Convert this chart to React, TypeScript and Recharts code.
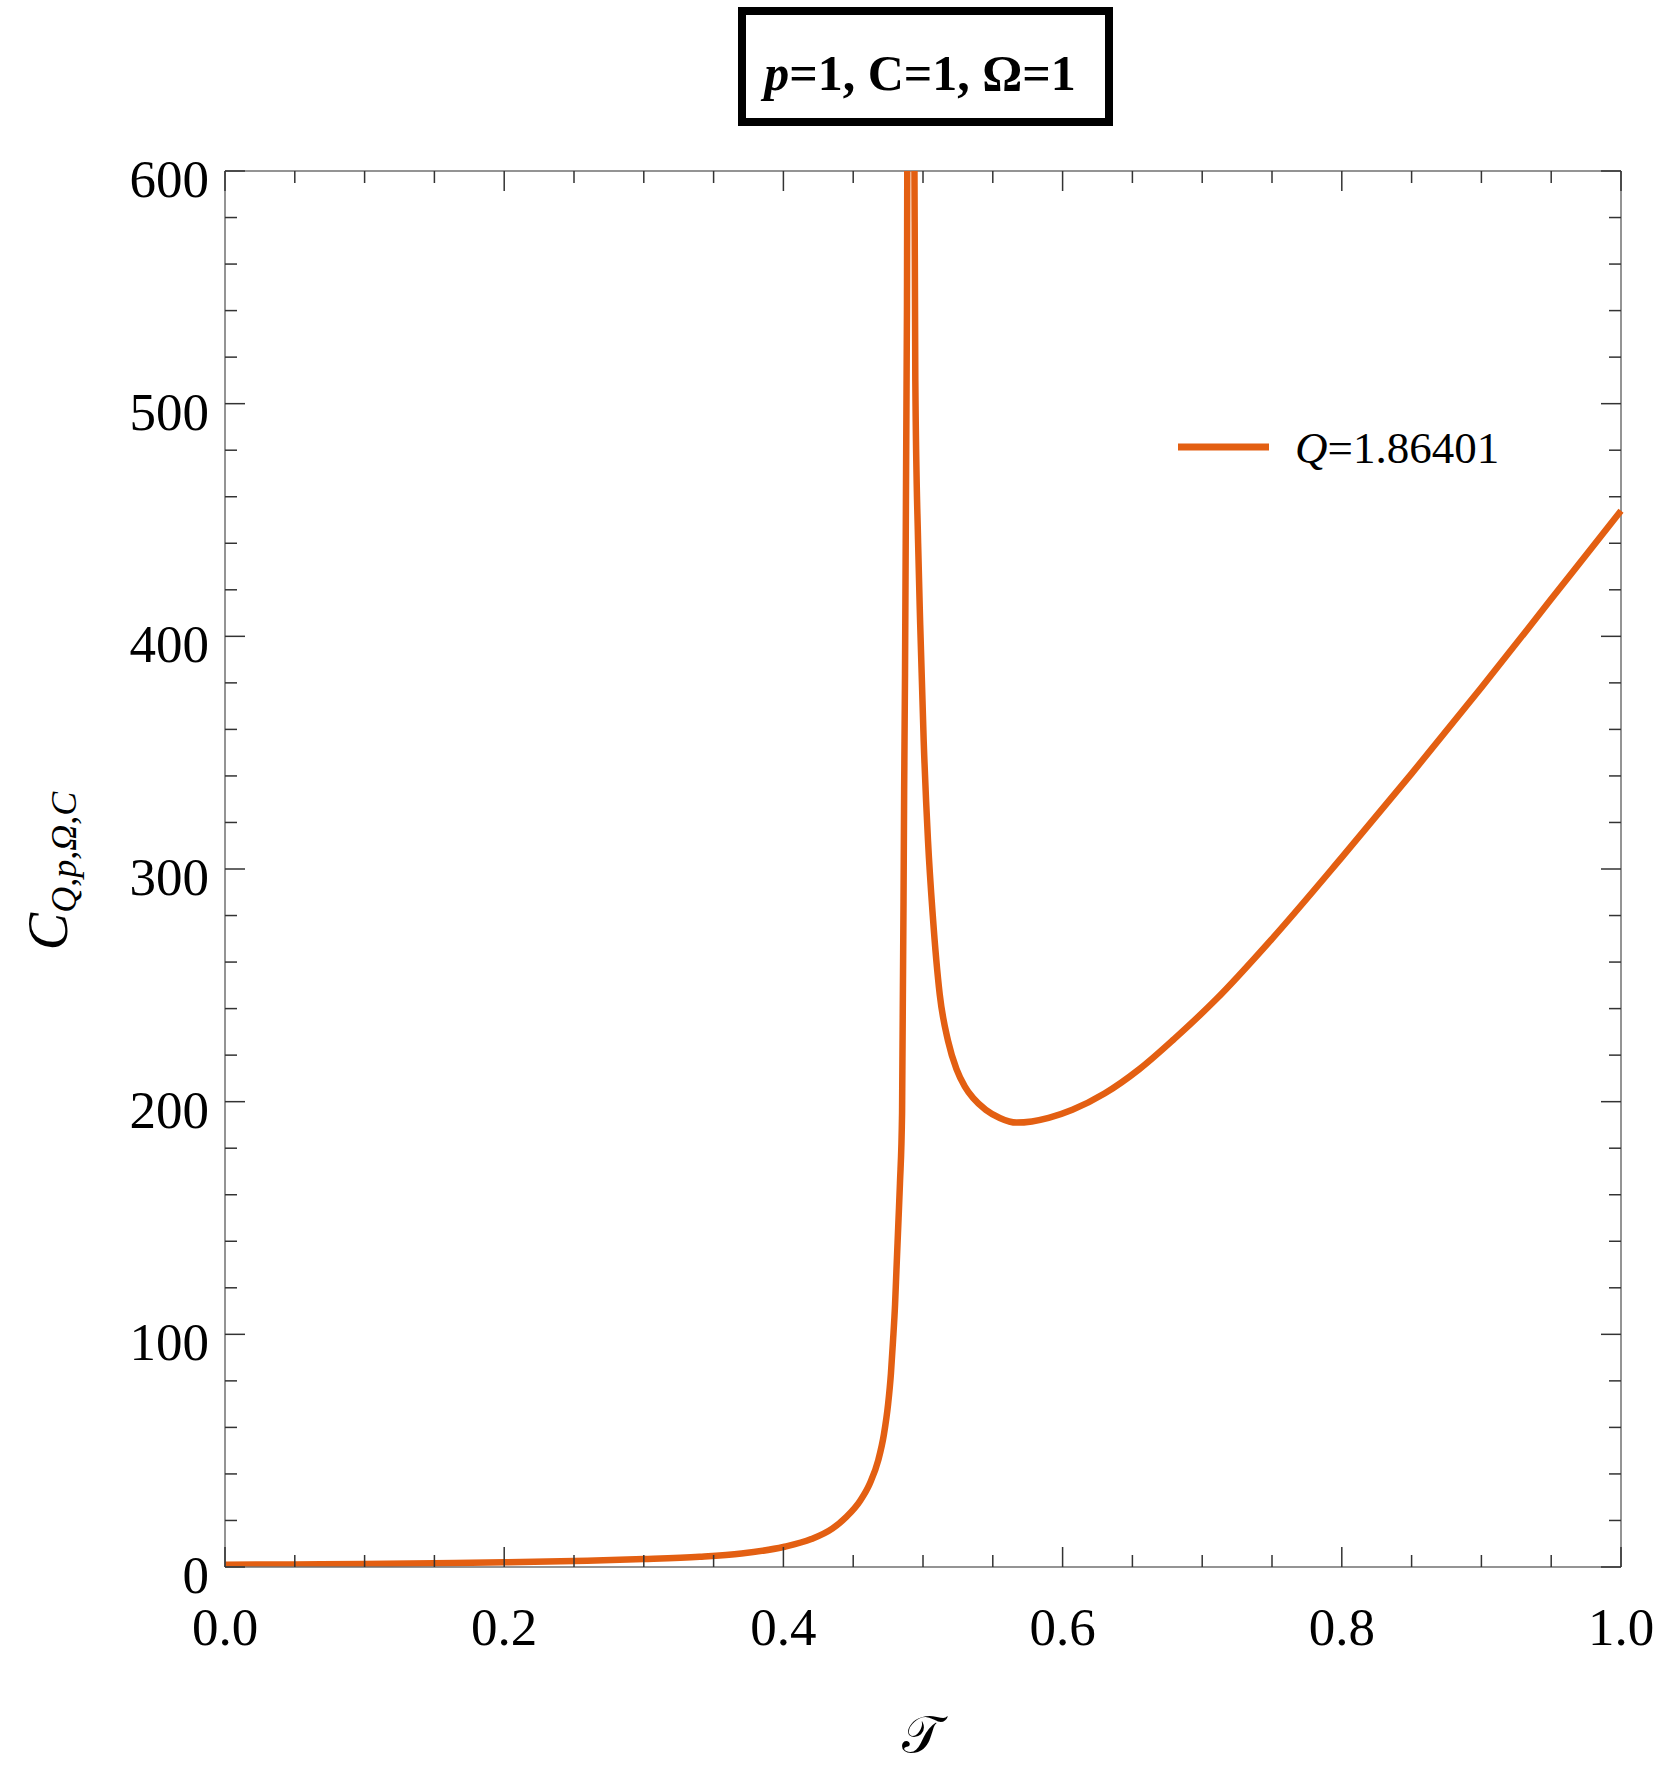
import React from 'react';
import { LineChart, Line, XAxis, YAxis, ReferenceLine } from 'recharts';

// temperature T (x) and heat capacity C_{Q,p,Ω,C} (y)
const T_VALUES = [
  0.0, 0.05, 0.1, 0.15, 0.2, 0.25, 0.3, 0.34, 0.37, 0.4, 0.42, 0.435, 0.445, 0.455,
  0.462, 0.468, 0.472, 0.475, 0.477, 0.4785, 0.48, 0.481, 0.4825, 0.4835, 0.485,
  0.4865, 0.4885, 0.4892,
  0.4935, 0.4945, 0.4965, 0.498, 0.5005, 0.5036, 0.507, 0.512, 0.518, 0.524, 0.53,
  0.536, 0.545, 0.555, 0.567, 0.578, 0.59, 0.607, 0.63, 0.655, 0.68, 0.71, 0.75,
  0.8, 0.85, 0.9, 0.95, 1.0,
];
const C_VALUES = [
  1.0, 1.1, 1.3, 1.6, 2.0, 2.6, 3.4, 4.4, 5.8, 8.6, 12, 16.5, 21.5, 28.5,
  36, 46, 57, 70, 83, 97, 113, 128, 150, 165, 195,
  334, 540, 700,
  650, 510, 440, 405, 355, 312, 280, 246, 226, 214, 206.5,
  201.5, 196.5, 193, 191, 191.5, 193, 196.5, 203.5, 214, 227, 244, 270,
  305, 341, 378, 416, 454,
];

const X_TICKS = [
  0, 0.05, 0.1, 0.15, 0.2, 0.25, 0.3, 0.35, 0.4, 0.45, 0.5,
  0.55, 0.6, 0.65, 0.7, 0.75, 0.8, 0.85, 0.9, 0.95, 1.0,
];
const X_LABELED = [0, 0.2, 0.4, 0.6, 0.8, 1.0];
const Y_TICKS = [
  0, 20, 40, 60, 80, 100, 120, 140, 160, 180, 200, 220, 240, 260, 280, 300,
  320, 340, 360, 380, 400, 420, 440, 460, 480, 500, 520, 540, 560, 580, 600,
];
const Y_LABELED = [0, 100, 200, 300, 400, 500, 600];

const SERIES_Q = '1.86401';

const data = T_VALUES.map((t, i) => ({ t, c: C_VALUES[i] }));

const W = 1661;
const H = 1769;
const PLOT_W = 1396;
const PLOT_H = 1396;
const ORANGE = '#E35F12';
const FRAME = '#707070';
const TICK = '#333';
const SERIF = '"Liberation Serif", "Times New Roman", serif';

const isIn = (list: number[], v: number) => list.some((m) => Math.abs(m - v) < 1e-9);

const XTick = (props: any) => {
  const { x, y, payload } = props;
  const v = payload.value;
  const major = isIn(X_LABELED, v);
  const len = major ? 20 : 12;
  return (
    <g>
      <line x1={x} x2={x} y1={y} y2={y - len} stroke={TICK} strokeWidth={1.5} />
      <line x1={x} x2={x} y1={y - PLOT_H} y2={y - PLOT_H + len} stroke={TICK} strokeWidth={1.5} />
      {major && (
        <text x={x} y={y + 78} textAnchor="middle" fontFamily={SERIF} fontSize={53} fill="#000">
          {v.toFixed(1)}
        </text>
      )}
    </g>
  );
};

const YTick = (props: any) => {
  const { x, y, payload } = props;
  const v = payload.value;
  const major = isIn(Y_LABELED, v);
  const len = major ? 20 : 12;
  return (
    <g>
      <line x1={x} x2={x + len} y1={y} y2={y} stroke={TICK} strokeWidth={1.5} />
      <line x1={x + PLOT_W} x2={x + PLOT_W - len} y1={y} y2={y} stroke={TICK} strokeWidth={1.5} />
      {major && (
        <text x={x - 16} y={y + 26} textAnchor="end" fontFamily={SERIF} fontSize={53} fill="#000">
          {v}
        </text>
      )}
    </g>
  );
};

export default function App() {
  return (
    <div style={{ position: 'absolute', left: 0, top: 0, width: W, height: H, background: '#fff' }}>
      <LineChart
        width={W}
        height={H}
        data={data}
        margin={{ top: 171, right: 40, bottom: 22, left: 25 }}
      >
        <XAxis
          dataKey="t"
          type="number"
          domain={[0, 1]}
          ticks={X_TICKS}
          interval={0}
          tickSize={0}
          tickMargin={0}
          tickLine={false}
          tick={<XTick />}
          height={180}
          axisLine={{ stroke: FRAME, strokeWidth: 1.5 }}
        />
        <YAxis
          type="number"
          domain={[0, 600]}
          allowDataOverflow
          ticks={Y_TICKS}
          interval={0}
          tickSize={0}
          tickMargin={0}
          tickLine={false}
          tick={<YTick />}
          width={200}
          axisLine={{ stroke: FRAME, strokeWidth: 1.5 }}
        />
        <ReferenceLine y={600} stroke={FRAME} strokeWidth={1.5} />
        <ReferenceLine x={1} stroke={FRAME} strokeWidth={1.5} />
        <Line
          type="monotone"
          dataKey="c"
          stroke={ORANGE}
          strokeWidth={6.5}
          dot={false}
          activeDot={false}
          isAnimationActive={false}
        />
      </LineChart>

      {/* title box, legend and axis titles */}
      <svg
        width={W}
        height={H}
        style={{ position: 'absolute', left: 0, top: 0, pointerEvents: 'none' }}
      >
        <rect x={742} y={11} width={367} height={111} fill="#fff" stroke="#000" strokeWidth={8} />
        <text x={920} y={90} textAnchor="middle" fontFamily={SERIF} fontSize={50} fontWeight="bold" fill="#000">
          <tspan fontStyle="italic">p</tspan>=1, C=1, Ω=1
        </text>

        <line x1={1178} x2={1269} y1={447} y2={447} stroke={ORANGE} strokeWidth={7} />
        <text x={1295} y={463} fontFamily={SERIF} fontSize={45} fill="#000">
          <tspan fontStyle="italic">Q</tspan>={SERIES_Q}
        </text>

        <text x={922} y={1752} textAnchor="middle" fontFamily={SERIF} fontSize={52} fill="#000">
          𝒯
        </text>
        <text
          transform="translate(67, 871) rotate(-90)"
          x={0}
          y={0}
          textAnchor="middle"
          fontFamily={SERIF}
          fill="#000"
        >
          <tspan fontSize={56} fontStyle="italic">C</tspan>
          <tspan fontSize={36} fontStyle="italic" dy={9}>Q,p,Ω,C</tspan>
        </text>
      </svg>
    </div>
  );
}
